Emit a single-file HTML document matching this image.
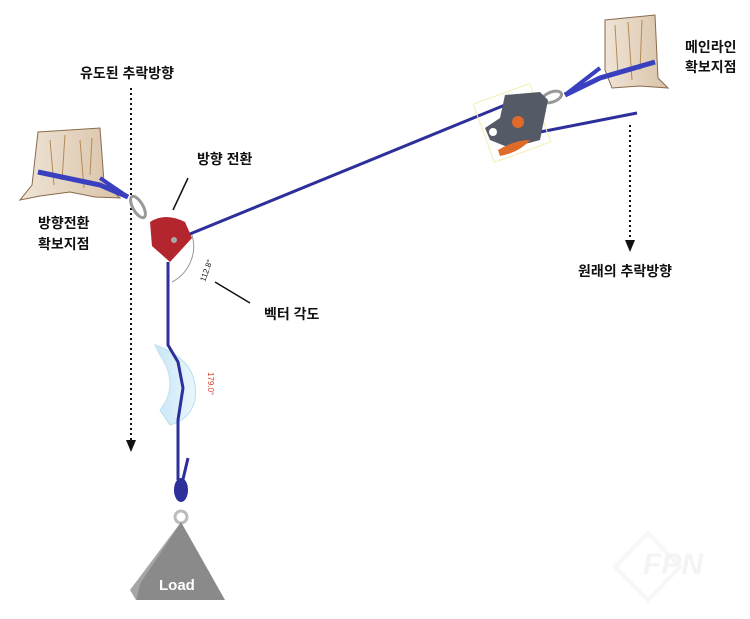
<!DOCTYPE html>
<html><head><meta charset="utf-8"><style>
html,body{margin:0;padding:0;background:#fff;width:750px;height:619px;overflow:hidden}
svg{display:block}
text{font-family:"Liberation Sans","Noto Sans CJK KR",sans-serif;font-weight:bold;font-size:14px;fill:#111}
</style></head><body>
<svg width="750" height="619" viewBox="0 0 750 619" xmlns="http://www.w3.org/2000/svg">
<defs>
<linearGradient id="tr" x1="0" x2="1"><stop offset="0" stop-color="#efe4d6"/><stop offset="1" stop-color="#d9c3a8"/></linearGradient>
<linearGradient id="pr" x1="0" x2="1"><stop offset="0" stop-color="#c9e6f5"/><stop offset="1" stop-color="#e9f6fc"/></linearGradient>
</defs>
<text x="80" y="78">유도된 추락방향</text>
<text x="197" y="164">방향 전환</text>
<text x="38" y="228">방향전환</text>
<text x="38" y="249">확보지점</text>
<text x="264" y="319">벡터 각도</text>
<text x="685" y="52">메인라인</text>
<text x="685" y="72">확보지점</text>
<text x="578" y="276">원래의 추락방향</text>
<line x1="131" y1="88" x2="131" y2="440" stroke="#111" stroke-width="2" stroke-dasharray="2,3"/>
<polygon points="126,440 136,440 131,452" fill="#111"/>
<line x1="630" y1="125" x2="630" y2="240" stroke="#111" stroke-width="2" stroke-dasharray="2,3"/>
<polygon points="625,240 635,240 630,252" fill="#111"/>
<path d="M38,132 L100,128 L104,182 L120,198 L95,197 L70,192 L40,196 L20,200 L32,185 Z" fill="url(#tr)" stroke="#8a6a4a" stroke-width="1"/>
<path d="M50,140 L54,185 M65,135 L62,180 M80,140 L84,188 M92,138 L90,175" stroke="#b58a55" stroke-width="1" fill="none"/>
<path d="M38,172 L100,185 L128,197" stroke="#3a3fbf" stroke-width="5" fill="none"/>
<path d="M100,178 L128,197" stroke="#3a3fbf" stroke-width="4" fill="none"/>
<path d="M605,20 L655,15 L658,78 L668,88 L640,86 L612,88 L605,70 Z" fill="url(#tr)" stroke="#8a6a4a" stroke-width="1"/>
<path d="M615,25 L618,75 M628,22 L632,80 M642,20 L640,70" stroke="#b58a55" stroke-width="1" fill="none"/>
<path d="M655,62 L600,78 L565,95" stroke="#3a3fbf" stroke-width="5" fill="none"/>
<path d="M600,68 L565,95" stroke="#3a3fbf" stroke-width="4" fill="none"/>
<ellipse cx="138" cy="207" rx="5" ry="12" transform="rotate(-30 138 207)" fill="none" stroke="#999" stroke-width="3"/>
<ellipse cx="552" cy="97" rx="10" ry="5" transform="rotate(-20 552 97)" fill="none" stroke="#999" stroke-width="3"/>
<line x1="185" y1="236" x2="505" y2="105" stroke="#2d2f9a" stroke-width="3"/>
<line x1="535" y1="133" x2="637" y2="113" stroke="#2d2f9a" stroke-width="3"/>
<rect x="482" y="92" width="60" height="62" transform="rotate(-20 512 123)" fill="none" stroke="#f3eeb0" stroke-width="1"/>
<path d="M505,95 L540,92 L548,100 L540,140 L510,148 L490,140 L485,128 L500,118 Z" fill="#555b66"/>
<circle cx="518" cy="122" r="6" fill="#e06a2a"/>
<path d="M498,150 Q515,140 530,140 Q520,152 500,156 Z" fill="#e06a2a"/>
<circle cx="493" cy="132" r="4" fill="#fff"/>
<path d="M150,222 Q165,212 185,222 L192,238 L170,262 L152,246 Z" fill="#b3262e"/>
<circle cx="174" cy="240" r="3" fill="#aaa"/>
<line x1="188" y1="178" x2="173" y2="210" stroke="#111" stroke-width="1.5"/>
<line x1="215" y1="282" x2="250" y2="303" stroke="#111" stroke-width="1.5"/>
<path d="M192,235 A40,40 0 0 1 172,282" fill="none" stroke="#999" stroke-width="1"/>
<text x="0" y="0" transform="translate(205,282) rotate(-70)" style="font-size:8px;font-weight:normal">112.8°</text>
<path d="M155,345 Q200,360 195,400 Q190,420 170,425 L160,410 Q180,385 160,355 Z" fill="url(#pr)" stroke="#bcdff0"/>
<text x="0" y="0" transform="translate(208,372) rotate(90)" style="font-size:8px;font-weight:normal;fill:#e04030">179.0°</text>
<path d="M168,262 L168,345 L178,362 L183,388 L178,420 L178,480" stroke="#2d2f9a" stroke-width="3" fill="none"/>
<path d="M180,492 L188,458" stroke="#2d2f9a" stroke-width="3"/>
<ellipse cx="181" cy="490" rx="7" ry="12" fill="#2d2f9a"/>
<circle cx="181" cy="517" r="6" fill="none" stroke="#bbb" stroke-width="3"/>
<polygon points="181,522 225,600 136,600 140,583" fill="#8a8a8a"/>
<polygon points="181,522 140,583 136,600 130,590" fill="#a5a5a5"/>
<text x="159" y="590" style="fill:#fff;font-size:15px">Load</text>
<g opacity="0.45">
<polygon points="648,533 680,567 648,600 615,567" fill="none" stroke="#eee" stroke-width="4"/>
<text x="643" y="574" style="fill:#e8e8e8;font-size:30px;font-style:italic">FPN</text>
</g>
</svg>
</body></html>
